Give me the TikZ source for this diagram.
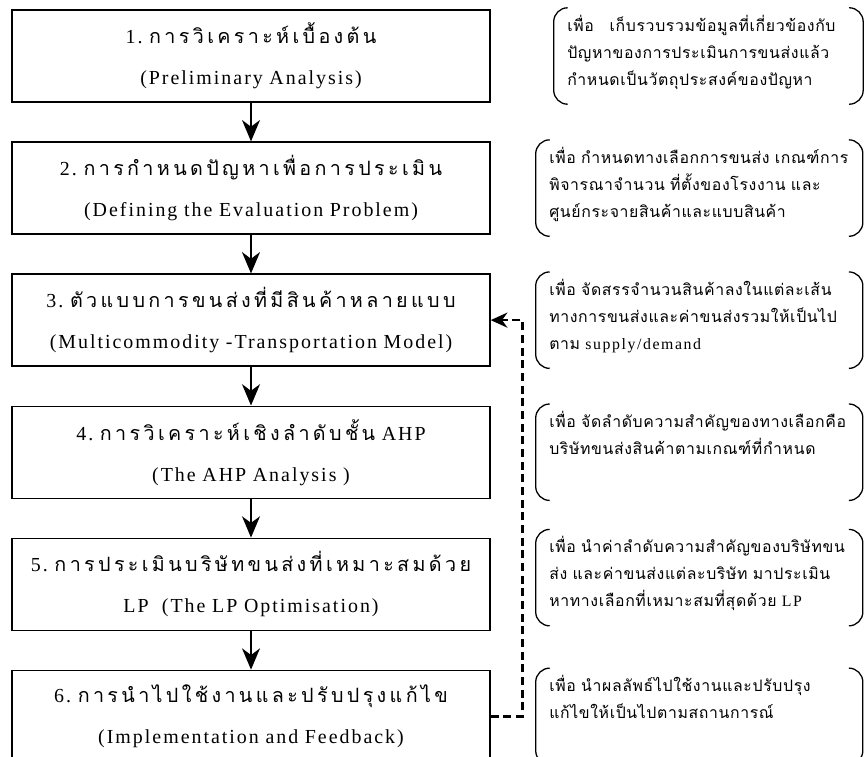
\documentclass[tikz,border=0pt]{standalone}
\usepackage{fontspec}
\setmainfont{Liberation Serif}[LetterSpace=10]
\newfontfamily\thaifont[Script=Thai, Scale=0.99, LetterSpace=17]{Loma}
\newfontfamily\notefont[Script=Thai, LetterSpace=4]{Loma}
\usetikzlibrary{positioning,arrows.meta}
\tikzset{
  stage/.style={draw=black, line width=1.2pt, minimum width=14.34cm, minimum height=2.76cm,
    inner sep=0pt, text width=14cm, align=center, font=\fontsize{17}{35}\selectfont},
  note/.style={inner xsep=0.4cm, inner ysep=0pt, text width=9.0cm, align=left,
    text height=0.7cm, text depth=2.18cm, font=\fontsize{13.5}{23}\selectfont},
  paren/.style={draw=black, line width=1.1pt, rounded corners=0.42cm},
  flow/.style={draw=black, line width=1.3pt, -{Stealth[length=0.64cm,width=0.54cm,inset=0.2cm]}},
  feedback/.style={draw=black, line width=2.2pt, dash pattern=on 0.24cm off 0.14cm,
    -{Stealth[length=0.5cm,width=0.45cm,inset=0.16cm]}},
}

\begin{document}
\begin{tikzpicture}
  \fill[white] (0,0) rectangle (25.92,22.68);
  \useasboundingbox (0,0) rectangle (25.92,22.68);

  \node[stage] (b1) at (7.53,21.0) {1.~{\thaifont การวิเคราะห์เบื้องต้น}\\(Preliminary Analysis)};
  \node[stage, below=1.16cm of b1] (b2) {2.~{\thaifont การกำหนดปัญหาเพื่อการประเมิน}\\(Defining the Evaluation Problem)};
  \node[stage, below=1.16cm of b2] (b3) {3.~{\thaifont ตัวแบบการขนส่งที่มีสินค้าหลายแบบ}\\(Multicommodity -Transportation Model)};
  \node[stage, below=1.16cm of b3] (b4) {4.~{\thaifont การวิเคราะห์เชิงลำดับชั้น} AHP\\(The AHP Analysis )};
  \node[stage, below=1.16cm of b4] (b5) {5.~{\thaifont การประเมินบริษัทขนส่งที่เหมาะสมด้วย}\\LP~ (The LP Optimisation)};
  \node[stage, below=1.16cm of b5] (b6) {6.~{\thaifont การนำไปใช้งานและปรับปรุงแก้ไข}\\(Implementation and Feedback)};

  \node[note, right=1.89cm of b1, text width=8.47cm] (n1) {\notefont เพื่อ\quad เก็บรวบรวมข้อมูลที่เกี่ยวข้องกับ\\ปัญหาของการประเมินการขนส่งแล้ว\\กำหนดเป็นวัตถุประสงค์ของปัญหา};
  \node[note, right=1.35cm of b2] (n2) {\notefont เพื่อ~กำหนดทางเลือกการขนส่ง~เกณฑ์การ\\พิจารณาจำนวน~ที่ตั้งของโรงงาน~และ\\ศูนย์กระจายสินค้าและแบบสินค้า};
  \node[note, right=1.35cm of b3] (n3) {{\notefont เพื่อ~จัดสรรจำนวนสินค้าลงในแต่ละเส้น\\ทางการขนส่งและค่าขนส่งรวมให้เป็นไป\\ตาม}~supply/demand};
  \node[note, right=1.35cm of b4] (n4) {\notefont เพื่อ~จัดลำดับความสำคัญของทางเลือกคือ\\บริษัทขนส่งสินค้าตามเกณฑ์ที่กำหนด};
  \node[note, right=1.35cm of b5, yshift=0.2cm] (n5) {{\notefont เพื่อ~นำค่าลำดับความสำคัญของบริษัทขน\\ส่ง~และค่าขนส่งแต่ละบริษัท~มาประเมิน\\หาทางเลือกที่เหมาะสมที่สุดด้วย}~LP};
  \node[note, right=1.35cm of b6] (n6) {\notefont เพื่อ~นำผลลัพธ์ไปใช้งานและปรับปรุง\\แก้ไขให้เป็นไปตามสถานการณ์};

  \foreach \n in {n1,n2,n3,n4,n5,n6}{
    \draw[paren] ([xshift=0.42cm]\n.north west) -- (\n.north west) -- (\n.south west) -- ([xshift=0.42cm]\n.south west);
    \draw[paren] ([xshift=-0.42cm]\n.north east) -- (\n.north east) -- (\n.south east) -- ([xshift=-0.42cm]\n.south east);
  }

  \draw[flow] (b1) -- (b2);
  \draw[flow] (b2) -- (b3);
  \draw[flow] (b3) -- (b4);
  \draw[flow] (b4) -- (b5);
  \draw[flow] (b5) -- (b6);
  \draw[feedback] (b6.east) -- ++(0.96cm,0) |- (b3.east);
\end{tikzpicture}
\end{document}
